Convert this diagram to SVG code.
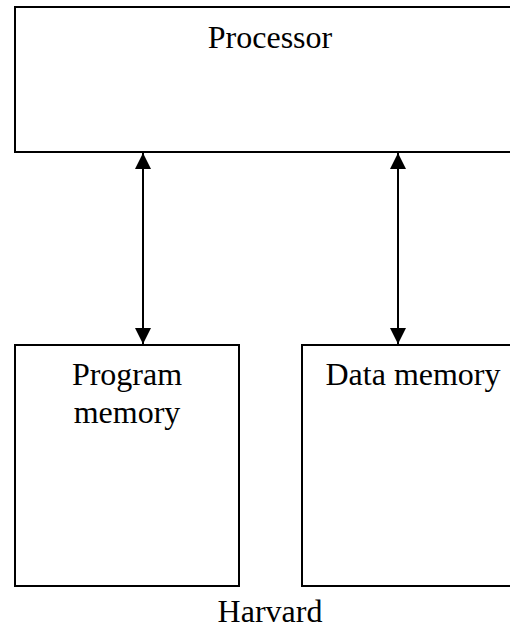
<svg xmlns="http://www.w3.org/2000/svg" width="510" height="630" viewBox="0 0 510 630">
<style>
.box{fill:#fff;stroke:#000;stroke-width:2}
.t{font-family:"Liberation Serif","Times New Roman",serif;font-size:32px;fill:#000;text-anchor:middle}
.c{stroke:#000;stroke-width:2;fill:none}
</style>
<defs>
<marker id="ah" viewBox="0 0 16 16" refX="16" refY="8" markerWidth="16" markerHeight="16" markerUnits="userSpaceOnUse" orient="auto-start-reverse">
<path d="M0,0 L16,8 L0,16 Z" fill="#000"/>
</marker>
</defs>
<rect width="510" height="630" fill="#fff"/>
<g id="processor">
<rect class="box" x="15" y="7" width="510" height="145"/>
<text class="t" x="270" y="48">Processor</text>
</g>
<g id="program-memory">
<rect class="box" x="15" y="345" width="224" height="241"/>
<text class="t" x="127" y="385">Program</text>
<text class="t" x="127" y="423">memory</text>
</g>
<g id="data-memory">
<rect class="box" x="302" y="345" width="223" height="241"/>
<text class="t" x="413" y="385">Data memory</text>
</g>
<g id="connectors">
<line class="c" x1="143" y1="153" x2="143" y2="344" marker-start="url(#ah)" marker-end="url(#ah)"/>
<line class="c" x1="398" y1="153" x2="398" y2="344" marker-start="url(#ah)" marker-end="url(#ah)"/>
</g>
<g id="caption">
<text class="t" x="270" y="622">Harvard</text>
</g>
</svg>
